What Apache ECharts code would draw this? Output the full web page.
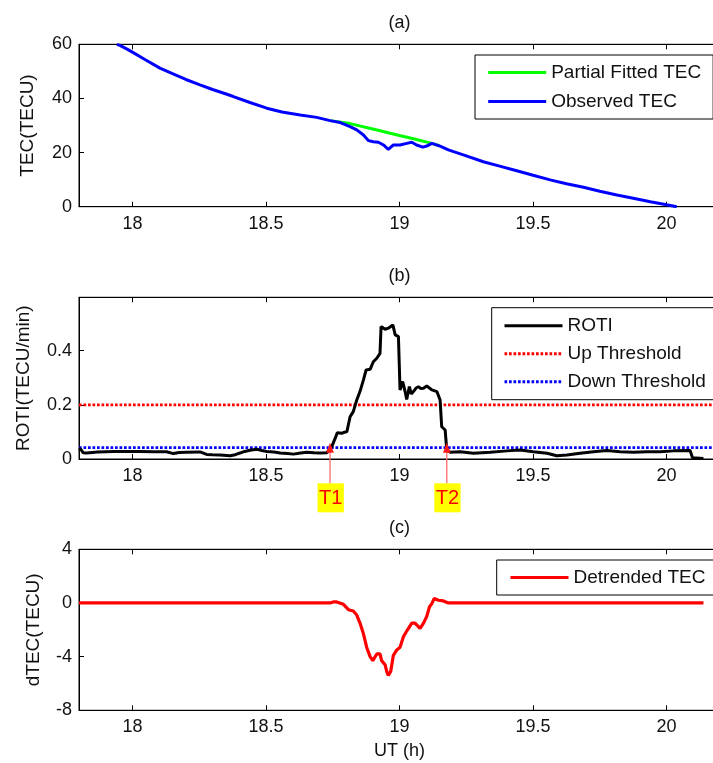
<!DOCTYPE html>
<html>
<head>
<meta charset="utf-8">
<script src="https://cdn.jsdelivr.net/npm/echarts@6/dist/echarts.min.js"></script>
<style>
  html, body { margin: 0; padding: 0; background: #ffffff; }
  #chart { width: 713px; height: 763px; }
</style>
</head>
<body>
<div id="chart"></div>
<script>
// ---- time axis (UT hours) ----
const xMin = 17.8;
const xMax = 20.2;
const xTicks = [18, 18.5, 19, 19.5, 20];

// ---- (a) TEC ----
const observedTime = [17.942, 17.953, 17.98, 18.0, 18.05, 18.103, 18.15, 18.2, 18.253, 18.3, 18.34, 18.378,
  18.44, 18.503, 18.56, 18.628, 18.69, 18.74, 18.778, 18.815, 18.84, 18.865, 18.884, 18.902, 18.921, 18.94,
  18.958, 18.977, 19.002, 19.027, 19.046, 19.064, 19.087, 19.102, 19.121, 19.152, 19.183, 19.25, 19.314,
  19.375, 19.439, 19.5, 19.564, 19.625, 19.689, 19.75, 19.814, 19.875, 19.939, 20.0, 20.038];
const observedTec = [60, 59.6, 58.2, 57.1, 54.2, 51.2, 49.2, 47.0, 45.0, 43.3, 42.0, 40.7,
  38.5, 36.4, 35.0, 33.9, 33.0, 31.8, 31.1, 29.6, 28.4, 26.5, 24.4, 24.0, 23.8, 22.8,
  21.2, 22.8, 22.8, 23.4, 23.8, 22.8, 22.0, 22.4, 23.4, 22.4, 21.0, 18.8, 16.6,
  15.0, 13.3, 11.6, 9.9, 8.5, 7.2, 5.7, 4.3, 3.1, 1.85, 0.7, 0];
const fittedTime = [18.74, 18.815, 18.9, 19.0, 19.06, 19.121, 19.15];
const fittedTec = [31.8, 30.7, 28.7, 26.3, 24.9, 23.4, 22.5];
const tecTicks = { min: 0, max: 60, step: 20 };

// ---- (b) ROTI ----
const rotiTime = [17.8, 17.808, 17.816, 17.829, 17.87, 17.929, 17.98, 18.028, 18.08, 18.128, 18.153, 18.175,
  18.203, 18.253, 18.278, 18.3, 18.328, 18.366, 18.385, 18.403, 18.42, 18.44, 18.466, 18.485, 18.503, 18.53,
  18.553, 18.58, 18.603, 18.63, 18.653, 18.68, 18.703, 18.728, 18.746, 18.759, 18.767, 18.784, 18.795, 18.803,
  18.815, 18.827, 18.84, 18.852, 18.865, 18.875, 18.89, 18.902, 18.915, 18.927, 18.931, 18.946, 18.958, 18.965,
  18.975, 18.984, 18.996, 19.002, 19.012, 19.021, 19.027, 19.037, 19.044, 19.052, 19.062, 19.071, 19.08, 19.09,
  19.102, 19.112, 19.121, 19.14, 19.152, 19.158, 19.171, 19.177, 19.183, 19.19, 19.227, 19.277, 19.339, 19.402,
  19.452, 19.501, 19.552, 19.589, 19.627, 19.676, 19.726, 19.776, 19.826, 19.876, 19.926, 19.976, 20.026,
  20.088, 20.097, 20.101, 20.138];
const rotiValue = [0.040, 0.034, 0.023, 0.022, 0.026, 0.028, 0.028, 0.028, 0.027, 0.027, 0.020, 0.024,
  0.025, 0.026, 0.017, 0.016, 0.015, 0.012, 0.016, 0.022, 0.028, 0.032, 0.036, 0.031, 0.028, 0.026,
  0.022, 0.020, 0.018, 0.022, 0.025, 0.023, 0.022, 0.023, 0.045, 0.076, 0.097, 0.095, 0.099, 0.101,
  0.156, 0.175, 0.218, 0.249, 0.292, 0.329, 0.331, 0.359, 0.372, 0.390, 0.489, 0.479, 0.483, 0.489,
  0.495, 0.458, 0.452, 0.255, 0.286, 0.249, 0.220, 0.267, 0.240, 0.249, 0.262, 0.267, 0.260, 0.261,
  0.270, 0.262, 0.255, 0.249, 0.218, 0.119, 0.107, 0.033, 0.033, 0.025, 0.027, 0.021, 0.025, 0.030,
  0.033, 0.027, 0.021, 0.012, 0.015, 0.021, 0.027, 0.031, 0.027, 0.025, 0.027, 0.027, 0.030,
  0.031, 0.005, 0.003, 0.002];
const upThreshold = 0.2;
const downThreshold = 0.042;
const rotiMax = 0.597;
const rotiTicks = [0, 0.2, 0.4];

// onset / end markers on the ROTI panel
const markerNames = ['T1', 'T2'];
const markerTimes = [18.74, 19.177];
const markerTip = 0.06;

// ---- (c) detrended TEC ----
const dtecTime = [17.8, 18.74, 18.752, 18.765, 18.79, 18.809, 18.827, 18.84, 18.852, 18.865, 18.877, 18.89,
  18.9, 18.915, 18.927, 18.933, 18.946, 18.952, 18.958, 18.967, 18.977, 18.99, 19.002, 19.015, 19.03,
  19.046, 19.058, 19.077, 19.09, 19.102, 19.112, 19.121, 19.13, 19.146, 19.164, 19.183, 20.138];
const dtecValue = [0, 0, 0.08, 0.08, -0.1, -0.5, -0.6, -0.9, -1.5, -2.3, -3.3, -4.0,
  -4.3, -3.8, -3.8, -4.3, -4.6, -5.1, -5.4, -5.1, -3.9, -3.5, -3.3, -2.5, -2.0,
  -1.5, -1.5, -1.9, -1.5, -1.0, -0.3, -0.05, 0.33, 0.2, 0.15, 0, 0];
const dtecTicks = { min: -8, max: 4, step: 4 };

function zip(xs, ys) { return xs.map((x, i) => [x, ys[i]]); }

const FONT = 'Liberation Sans, Arial, sans-serif';
const INK = '#111111';

const gridTops = [44.3, 297.3, 549.3];
const gridHeights = [162.4, 161.7, 161];
const panelTitles = ['(a)', '(b)', '(c)'];

const grids = gridTops.map((top, i) => ({
  left: 79, right: -7, top: top, height: gridHeights[i],
  show: true, borderColor: '#000', borderWidth: 1, backgroundColor: 'transparent',
  containLabel: false, outerBoundsMode: 'none'
}));

const xAxes = [];
gridTops.forEach((top, i) => {
  // bottom axis with tick labels
  xAxes.push({
    type: 'value', gridIndex: i, position: 'bottom', min: xMin, max: xMax,
    axisLine: { show: true, onZero: false, lineStyle: { color: '#000', width: 1 } },
    axisTick: { show: true, inside: true, length: 5, customValues: xTicks, lineStyle: { color: '#000' } },
    axisLabel: { show: true, customValues: xTicks, margin: 8, fontSize: 18, color: INK, fontFamily: FONT },
    splitLine: { show: false },
    name: i === 2 ? 'UT (h)' : '', nameLocation: 'middle', nameGap: 32, nameMoveOverlap: false,
    nameTextStyle: { fontSize: 18, color: INK, fontFamily: FONT }
  });
  // mirrored top axis carrying the panel letter
  xAxes.push({
    type: 'value', gridIndex: i, position: 'top', min: xMin, max: xMax,
    axisLine: { show: true, onZero: false, lineStyle: { color: '#000', width: 1 } },
    axisTick: { show: true, inside: true, length: 5, customValues: xTicks, lineStyle: { color: '#000' } },
    axisLabel: { show: false },
    splitLine: { show: false },
    name: panelTitles[i], nameLocation: 'middle', nameGap: 12, nameMoveOverlap: false,
    nameTextStyle: { fontSize: 18, color: INK, fontFamily: FONT }
  });
});

const yCommon = {
  type: 'value', position: 'left',
  axisLine: { show: true, onZero: false, lineStyle: { color: '#000', width: 1 } },
  splitLine: { show: false },
  nameLocation: 'middle', nameMoveOverlap: false,
  nameTextStyle: { fontSize: 19, color: INK, fontFamily: FONT }
};
const yAxes = [
  Object.assign({}, yCommon, {
    gridIndex: 0, min: tecTicks.min, max: tecTicks.max, interval: tecTicks.step,
    axisTick: { show: true, inside: true, length: 5, lineStyle: { color: '#000' } },
    axisLabel: { margin: 7, fontSize: 18, color: INK, fontFamily: FONT },
    name: 'TEC(TECU)', nameGap: 42
  }),
  Object.assign({}, yCommon, {
    gridIndex: 1, min: 0, max: rotiMax,
    axisTick: { show: true, inside: true, length: 5, customValues: rotiTicks, lineStyle: { color: '#000' } },
    axisLabel: { margin: 7, fontSize: 18, color: INK, fontFamily: FONT, customValues: rotiTicks },
    name: 'ROTI(TECU/min)', nameGap: 46
  }),
  Object.assign({}, yCommon, {
    gridIndex: 2, min: dtecTicks.min, max: dtecTicks.max, interval: dtecTicks.step,
    axisTick: { show: true, inside: true, length: 5, lineStyle: { color: '#000' } },
    axisLabel: { margin: 7, fontSize: 18, color: INK, fontFamily: FONT },
    name: 'dTEC(TECU)', nameGap: 36
  })
];

function lineSeries(name, data, xi, yi, color, width, type, z) {
  return {
    name: name, type: 'line', data: data, xAxisIndex: xi, yAxisIndex: yi,
    symbol: 'none', showSymbol: false, animation: false, clip: true, z: z || 2,
    lineStyle: { color: color, width: width, type: type || 'solid' },
    itemStyle: { color: color },
    emphasis: { disabled: true }
  };
}

const series = [
  lineSeries('Partial Fitted TEC', zip(fittedTime, fittedTec), 0, 0, '#00ff00', 3, 'solid', 2),
  lineSeries('Observed TEC', zip(observedTime, observedTec), 0, 0, '#0000ff', 3, 'solid', 3),
  lineSeries('Up Threshold', [[xMin, upThreshold], [xMax, upThreshold]], 2, 1, '#ff0000', 2.7, [2.7, 1.8], 2),
  lineSeries('Down Threshold', [[xMin, downThreshold], [xMax, downThreshold]], 2, 1, '#0000ff', 2.7, [2.7, 1.8], 2),
  lineSeries('ROTI', zip(rotiTime, rotiValue), 2, 1, '#000000', 3, 'solid', 3),
  lineSeries('Detrended TEC', zip(dtecTime, dtecValue), 4, 2, '#ff0000', 3.2, 'solid', 3)
];

const legendCommon = {
  orient: 'vertical', itemWidth: 58, itemHeight: 18, itemGap: 10,
  backgroundColor: '#ffffff', borderColor: '#000', borderWidth: 1, borderRadius: 0,
  selectedMode: false,
  textStyle: { fontSize: 19, color: INK, fontFamily: FONT },
  itemStyle: { opacity: 0, borderWidth: 0 },
  lineStyle: { width: 3 }
};
const legends = [
  Object.assign({}, legendCommon, {
    data: ['Partial Fitted TEC', 'Observed TEC'], left: 475, top: 55, padding: [8, 12, 8, 11.7]
  }),
  Object.assign({}, legendCommon, {
    data: ['ROTI', 'Up Threshold', 'Down Threshold'], left: 491.7, top: 307.7, itemGap: 9,
    padding: [8.5, 12, 8.5, 11.3]
  }),
  Object.assign({}, legendCommon, {
    data: ['Detrended TEC'], left: 496.7, top: 560, padding: [8, 12, 8, 12.3]
  })
];

const chart = echarts.init(document.getElementById('chart'), null, { renderer: 'canvas' });
chart.setOption({
  backgroundColor: '#ffffff',
  animation: false,
  textStyle: { fontFamily: FONT },
  grid: grids,
  xAxis: xAxes,
  yAxis: yAxes,
  legend: legends,
  series: series
});

// T1 / T2 markers: arrow from a tagged box below the axis up to the ROTI curve
const markerGraphics = [];
markerNames.forEach((label, i) => {
  const tip = chart.convertToPixel({ xAxisIndex: 2, yAxisIndex: 1 }, [markerTimes[i], markerTip]);
  const base = chart.convertToPixel({ xAxisIndex: 2, yAxisIndex: 1 }, [markerTimes[i], 0]);
  const px = tip[0];
  const boxTop = base[1] + 24.3;
  markerGraphics.push({
    type: 'line', z: 100,
    shape: { x1: px, y1: boxTop, x2: px, y2: tip[1] + 8 },
    style: { stroke: '#ff6e6e', lineWidth: 1.3 }
  });
  markerGraphics.push({
    type: 'polygon', z: 101,
    shape: { points: [[px, tip[1]], [px - 3.8, tip[1] + 10], [px + 3.8, tip[1] + 10]] },
    style: { fill: '#ff1a1a' }
  });
  markerGraphics.push({
    type: 'rect', z: 100,
    shape: { x: px - 12.5, y: boxTop, width: 26.3, height: 29 },
    style: { fill: '#ffff00' }
  });
  markerGraphics.push({
    type: 'text', z: 102,
    x: px + 0.6, y: boxTop + 15,
    style: { text: label, fill: '#ff0000', fontSize: 20, fontFamily: FONT, align: 'center', verticalAlign: 'middle' }
  });
});
chart.setOption({ graphic: markerGraphics });
</script>
</body>
</html>
